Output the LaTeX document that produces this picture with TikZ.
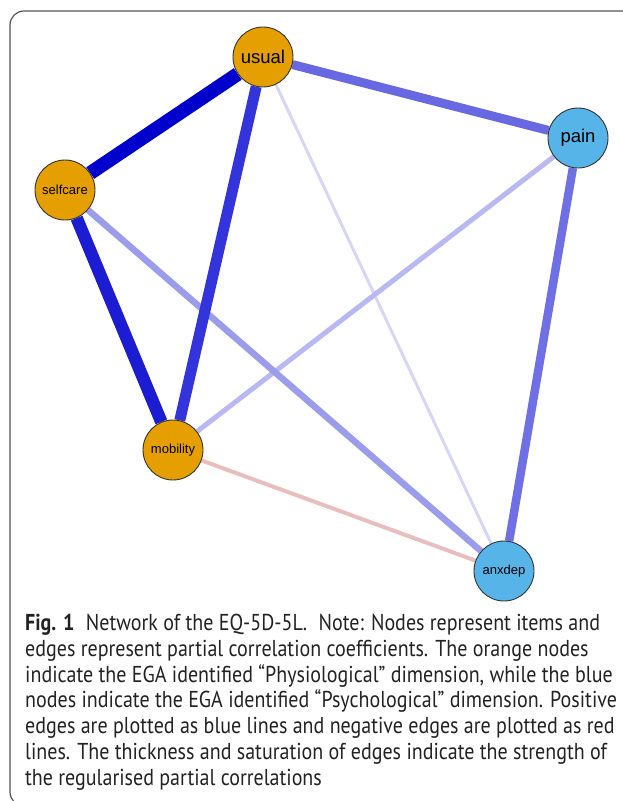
\documentclass[tikz,border=0pt]{standalone}
\usepackage{fontspec}
\setmainfont{PT Sans}
\newfontfamily\capfont[FakeStretch=0.87]{PT Sans}
\newfontfamily\nodefont{Liberation Sans}
\pgfdeclarelayer{bg}
\pgfsetlayers{bg,main}
\definecolor{orangenode}{HTML}{E69F00}
\definecolor{bluenode}{HTML}{56B4E9}
\definecolor{eA}{HTML}{0000CD}
\definecolor{eB}{HTML}{1C1CD2}
\definecolor{eC}{HTML}{3434DC}
\definecolor{eD}{HTML}{6868E3}
\definecolor{eE}{HTML}{7070E6}
\definecolor{eF}{HTML}{9C9CEC}
\definecolor{eG}{HTML}{B8B8F2}
\definecolor{eH}{HTML}{D6D6F7}
\definecolor{eR}{HTML}{E8BEBE}
\definecolor{framegray}{HTML}{555555}
\definecolor{captext}{HTML}{222222}
\tikzset{
  item/.style={circle, draw=black!80, line width=0.9pt, minimum size=60pt, inner sep=0pt, text=black},
  bigtxt/.style={font=\nodefont\fontsize{18.5}{20}\selectfont},
  smalltxt/.style={font=\nodefont\fontsize{13}{15}\selectfont},
  orangeitem/.style={item, fill=orangenode},
  blueitem/.style={item, fill=bluenode},
  edge/.style={line cap=butt},
  capline/.style={anchor=base west, inner sep=0pt, text=captext, font=\capfont\fontsize{23}{26}\selectfont}
}
\begin{document}
\begin{tikzpicture}[x=1pt,y=-1pt]
\useasboundingbox (0,0) rectangle (622,801);
\draw[framegray, line width=1.2pt, rounded corners=14pt] (640,11) -- (10,11) -- (10,806) -- (640,806);

\node[orangeitem, bigtxt] (usual) at (263,57) {usual};
\node[orangeitem, smalltxt] (selfcare) at (65,190) {selfcare};
\node[blueitem, bigtxt] (pain) at (578,138) {pain};
\node[orangeitem, smalltxt] (mobility) at (173,450) {mobility};
\node[blueitem, smalltxt] (anxdep) at (504,571) {anxdep};

\begin{pgfonlayer}{bg}
\draw[edge, eH, line width=3pt] (usual) -- (anxdep);
\draw[edge, eR, line width=4pt] (mobility) -- (anxdep);
\draw[edge, eG, line width=5pt] (mobility) -- (pain);
\draw[edge, eF, line width=6.5pt] (selfcare) -- (anxdep);
\draw[edge, eE, line width=8.5pt] (pain) -- (anxdep);
\draw[edge, eD, line width=9pt] (usual) -- (pain);
\draw[edge, eC, line width=11pt] (usual) -- (mobility);
\draw[edge, eB, line width=12.5pt] (selfcare) -- (mobility);
\draw[edge, eA, line width=14pt] (usual) -- (selfcare);
\end{pgfonlayer}

\node[capline] (c1) at (25,630) {\textbf{Fig. 1}\hspace{0.5em}Network of the EQ-5D-5L.\hspace{0.5em}Note: Nodes represent items and};
\node[capline] (c2) at (25,656) {edges represent partial correlation coefficients. The orange nodes};
\node[capline] (c3) at (25,682) {indicate the EGA identified “Physiological” dimension, while the blue};
\node[capline] (c4) at (25,707) {nodes indicate the EGA identified “Psychological” dimension. Positive};
\node[capline] (c5) at (25,733) {edges are plotted as blue lines and negative edges are plotted as red};
\node[capline] (c6) at (25,759) {lines. The thickness and saturation of edges indicate the strength of};
\node[capline] (c7) at (25,785) {the regularised partial correlations};
\end{tikzpicture}
\end{document}
